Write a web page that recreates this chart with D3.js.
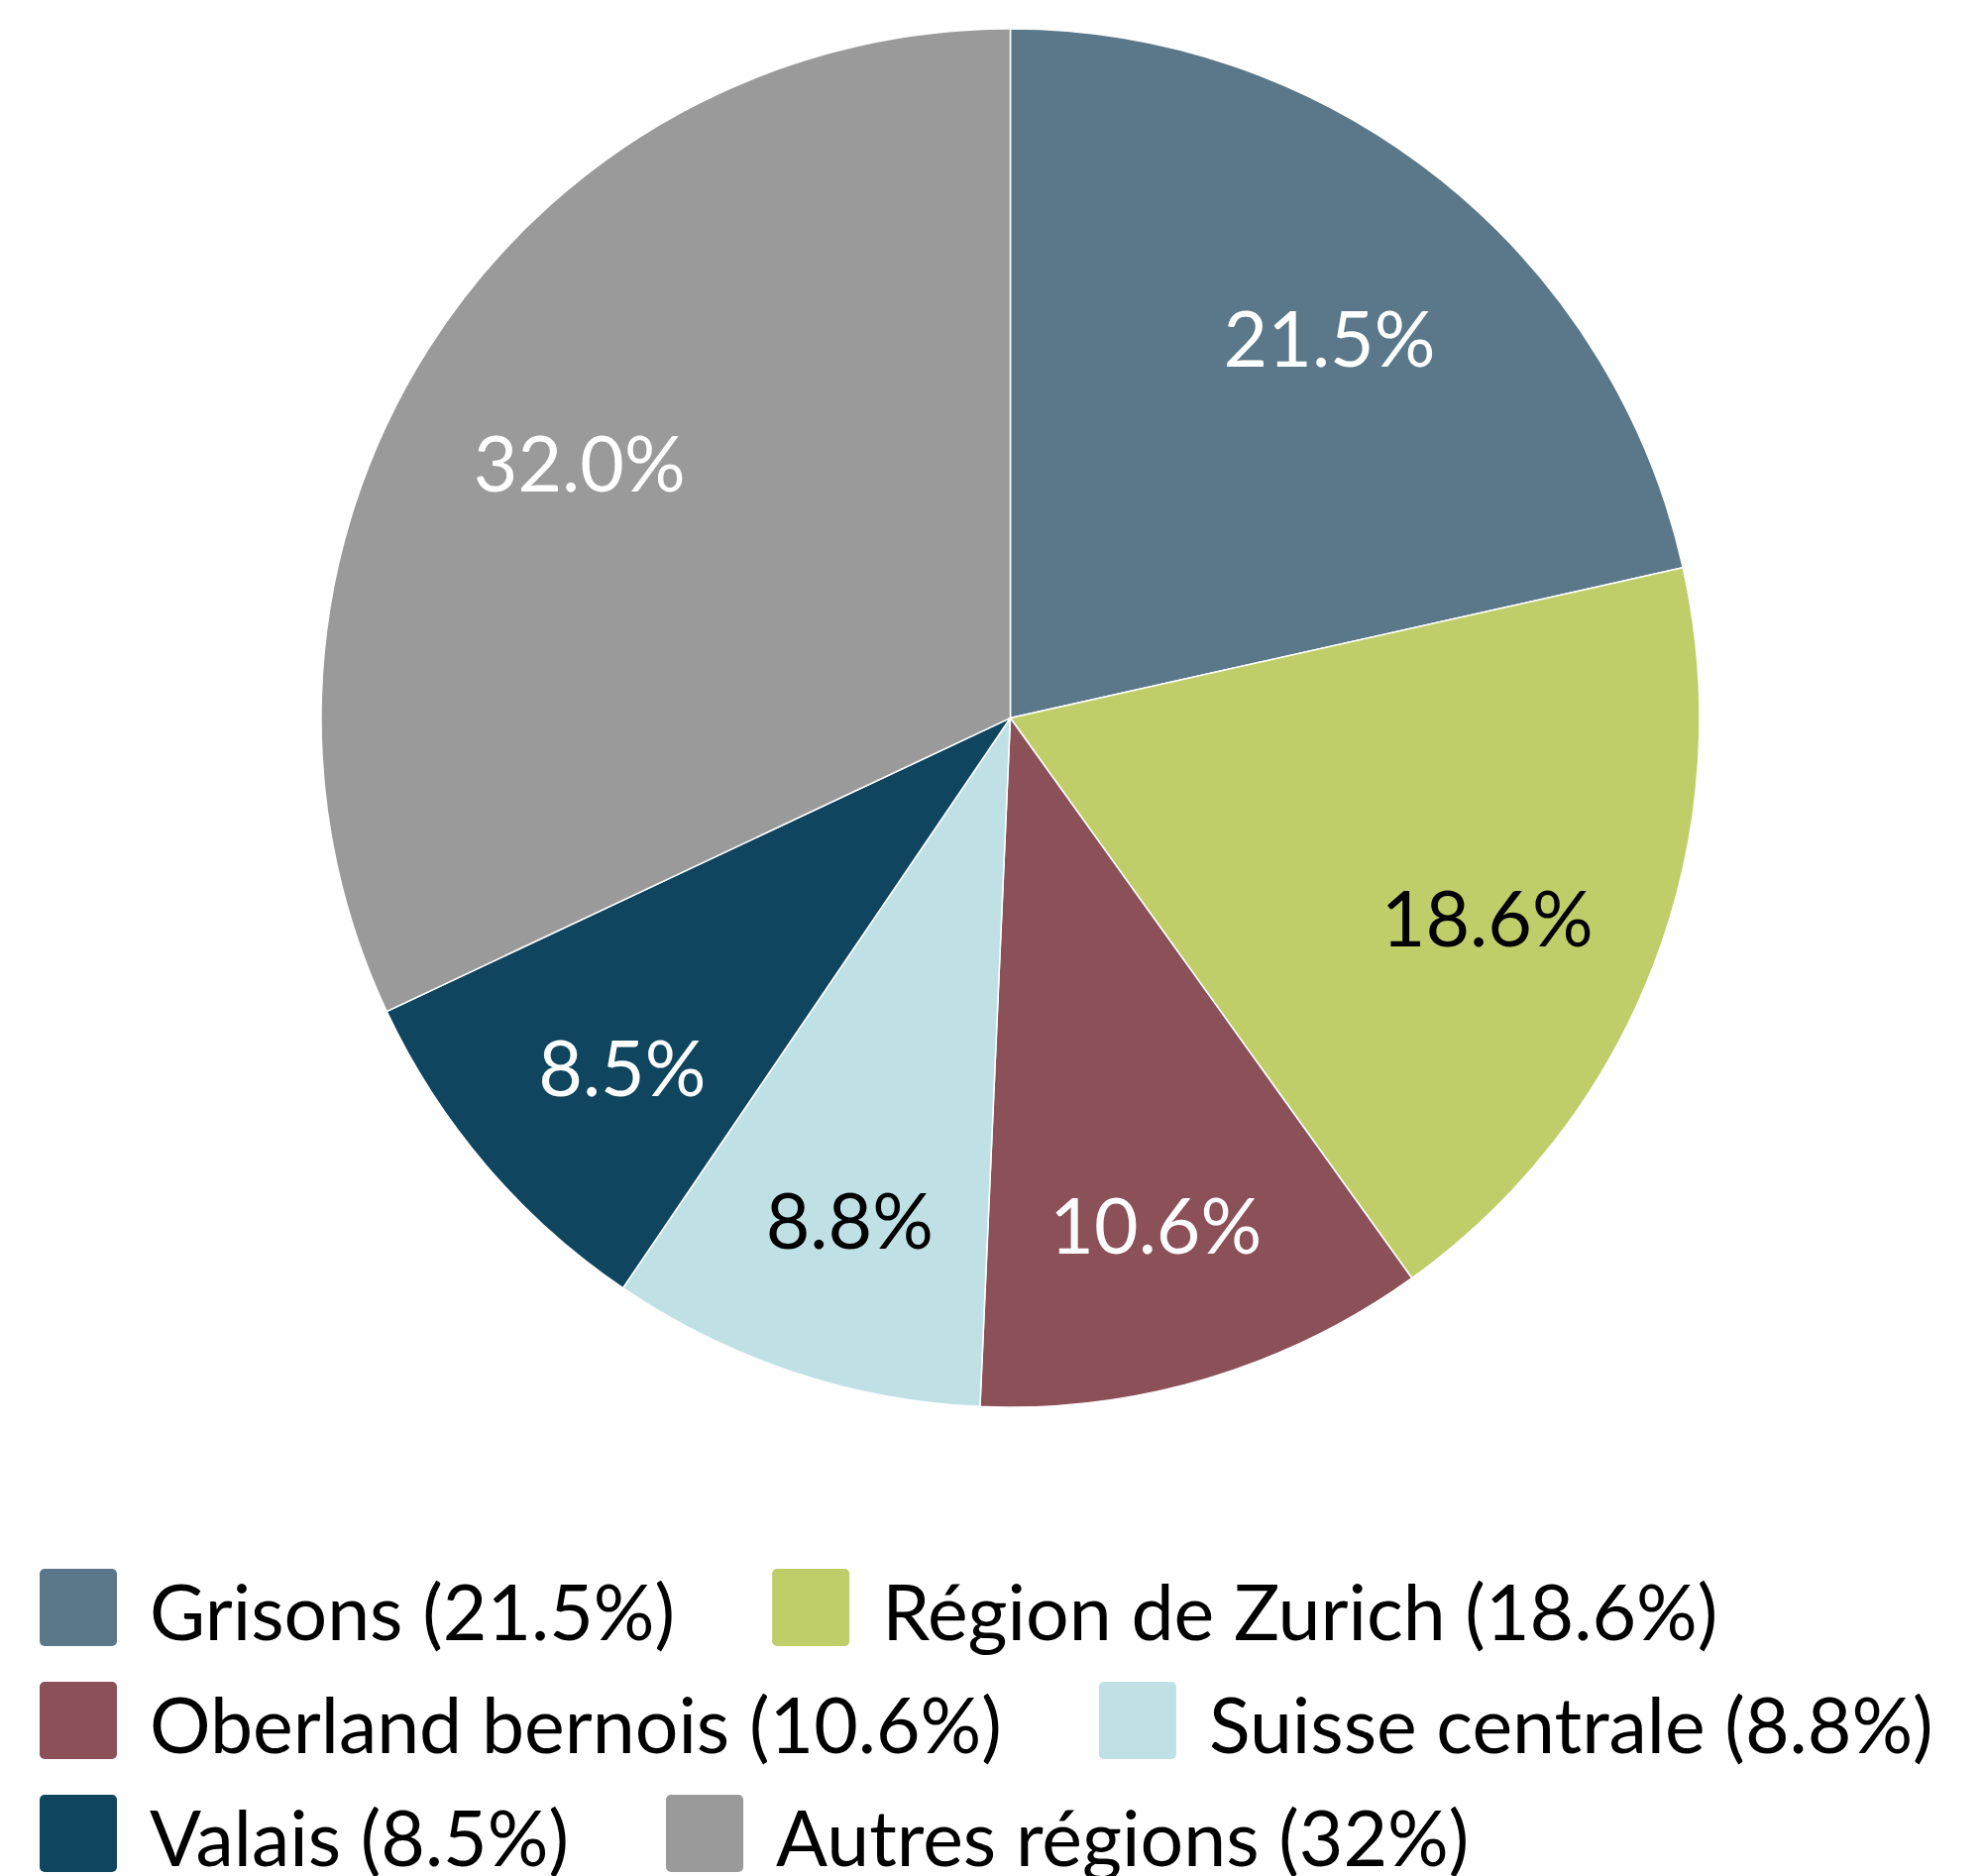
<!DOCTYPE html>
<html>
<head>
<meta charset="utf-8">
<script src="https://cdn.jsdelivr.net/npm/d3@7"></script>
<style>
  html, body { margin: 0; padding: 0; background: #ffffff; }
  svg { display: block; font-family: Lato, "Open Sans", sans-serif; }
</style>
</head>
<body>
<svg id="chart" width="2002" height="1893"></svg>
<script>
const categories = ["Grisons", "Région de Zurich", "Oberland bernois", "Suisse centrale", "Valais", "Autres régions"];
const values = [21.5, 18.6, 10.6, 8.8, 8.5, 32.0];
const sliceLabels = ["21.5%", "18.6%", "10.6%", "8.8%", "8.5%", "32.0%"];
const legendLabels = ["Grisons (21.5%)", "Région de Zurich (18.6%)", "Oberland bernois (10.6%)", "Suisse centrale (8.8%)", "Valais (8.5%)", "Autres régions (32%)"];
const colors = ["#5a7889", "#c0ce6a", "#8b5058", "#bfe1e5", "#0f455e", "#9a9a9a"];
const labelColors = ["#ffffff", "#000000", "#ffffff", "#000000", "#ffffff", "#ffffff"];

const svg = d3.select("#chart");
const cx = 1019.5, cy = 724.5, radius = 695.5;

const color = d3.scaleOrdinal().domain(categories).range(colors);
const data = categories.map((c, i) => ({ cat: c, value: values[i], label: sliceLabels[i], lc: labelColors[i] }));

const pie = d3.pie().value(d => d.value).sort(null);
const arcs = pie(data);
const arc = d3.arc().innerRadius(0).outerRadius(radius);
const labelArc = d3.arc().innerRadius(515).outerRadius(515);

const g = svg.append("g").attr("transform", `translate(${cx},${cy})`);
g.selectAll("path.slice").data(arcs).enter().append("path")
  .attr("class", "slice")
  .attr("d", arc)
  .attr("fill", d => color(d.data.cat))
  .attr("stroke", "#ffffff")
  .attr("stroke-width", 1.5)
  .attr("stroke-linejoin", "round");

g.selectAll("text.lbl").data(arcs).enter().append("text")
  .attr("class", "lbl")
  .attr("transform", d => `translate(${labelArc.centroid(d)})`)
  .attr("text-anchor", "middle")
  .attr("dy", 47)
  .attr("font-size", 77)
  .attr("fill", d => d.data.lc)
  .text(d => d.data.label);

// Legend (flow layout)
const legend = svg.append("g");
const sq = 78, textGap = 33, itemGap = 98, rowH = 114, left = 40, maxW = 2000;
let x = left, y = 1583;
legendLabels.forEach((lab, i) => {
  const item = legend.append("g");
  const t = item.append("text")
    .attr("font-size", 77)
    .attr("fill", "#000000")
    .text(lab);
  const w = t.node().getComputedTextLength();
  const itemW = sq + textGap + w;
  if (x > left && x + itemW > maxW) { x = left; y += rowH; }
  item.append("rect")
    .attr("x", x).attr("y", y)
    .attr("width", sq).attr("height", sq)
    .attr("rx", 5).attr("ry", 5)
    .attr("fill", color(categories[i]));
  t.attr("x", x + sq + textGap).attr("y", y + 72);
  x += itemW + itemGap;
});
</script>
</body>
</html>
